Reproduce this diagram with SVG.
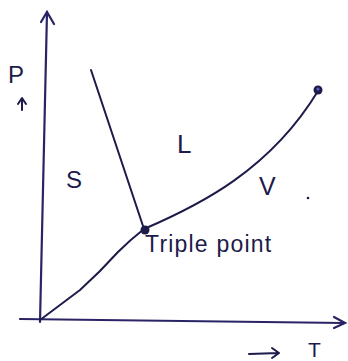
<svg xmlns="http://www.w3.org/2000/svg" width="348" height="361" viewBox="0 0 348 361">
<style>
.ln{fill:none;stroke:#1c1b4a;stroke-width:2;stroke-linecap:round;stroke-linejoin:round}
.ax{fill:none;stroke:#2a2466;stroke-width:2.2;stroke-linecap:round}
.tx{font-family:"Liberation Sans",sans-serif;fill:#1c1b4a}
.dot{fill:#1c1b4a}
</style>
<rect width="348" height="361" fill="#ffffff"/>
<g id="axes">
<path class="ax" d="M40,322 L47,12"/>
<path class="ax" d="M41,22 L47,12 L54,24"/>
<path class="ax" d="M20,319 L344,323"/>
<path class="ax" d="M334,317 L345,323 L334,328"/>
</g>
<g id="connectors">
<path class="ln" d="M91,70 L144,229"/>
<path class="ln" d="M40,320 Q60,305 80,290 Q100,272 118,252 Q130,240 144,229"/>
<path class="ln" d="M144,229 C200,205 270,170 318,91"/>
</g>
<g id="triple-point"><circle class="dot" cx="145" cy="230" r="4.5"/></g>
<g id="critical-point"><circle class="dot" cx="318" cy="90" r="4.5"/><circle cx="318" cy="89" r="1.6" fill="#5a5ac0"/></g>
<g id="labels">
<text class="tx" x="8" y="83" font-size="24">P</text>
<path class="ln" d="M22,110 L22,99 M18,104 L22,98 L26,104" stroke-width="1.6"/>
<text class="tx" x="66" y="188" font-size="24">S</text>
<text class="tx" x="177" y="153" font-size="26">L</text>
<text class="tx" x="259" y="195" font-size="25">V</text>
<circle class="dot" cx="308" cy="198" r="1.3"/>
<text class="tx" x="145" y="252" font-size="23" letter-spacing="1.2">Triple point</text>
<path class="ln" d="M249,354 L279,353 M272,348 L279,353 L272,358" stroke-width="1.8"/>
<text class="tx" x="308" y="357" font-size="21">T</text>
</g>
</svg>
